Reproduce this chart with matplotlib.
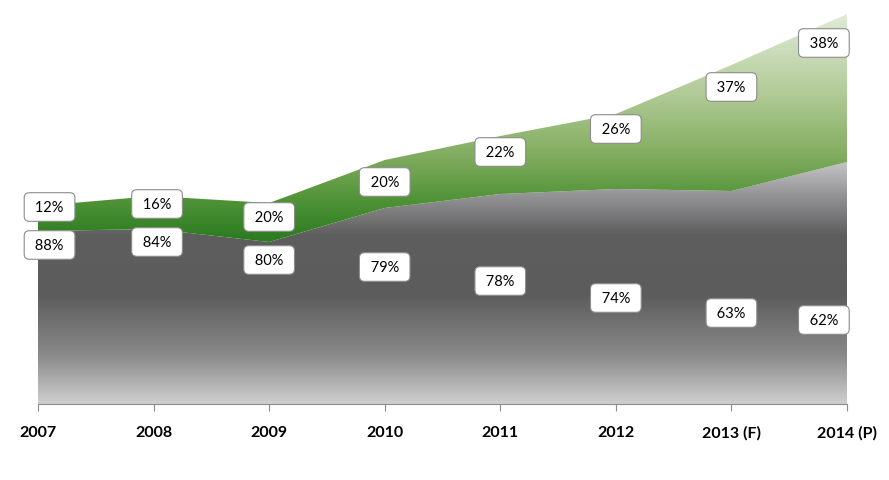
import matplotlib.pyplot as plt
import numpy as np
from matplotlib.colors import LinearSegmentedColormap

years = ["2007", "2008", "2009", "2010", "2011", "2012", "2013 (F)", "2014 (P)"]
gray_vals = [173, 175, 162, 196, 210, 215, 213, 242]
green_vals = [25, 33, 39, 48, 58, 75, 126, 148]
gray_pct = ["88%", "84%", "80%", "79%", "78%", "74%", "63%", "62%"]
green_pct = ["12%", "16%", "20%", "20%", "22%", "26%", "37%", "38%"]

# label placement (manual, like the original)
gray_lab_y = [159, 162, 144, 137, 123, 106, 91, 84]
green_lab_y = [197, 200, 187, 222, 252, 275, 317, 361]
lab_dx = [0.1, 0.03, 0, 0, 0, 0, 0, -0.2]


def gradient_fill(ax, x, y1, y2, stops, top):
    poly = ax.fill_between(x, y1, y2, color="none", lw=0)
    cmap = LinearSegmentedColormap.from_list("g", stops)
    grad = np.linspace(0, 1, 256).reshape(-1, 1)
    im = ax.imshow(grad, cmap=cmap, aspect="auto", origin="lower",
                   extent=[x[0], x[-1], 0, top], zorder=1)
    im.set_clip_path(poly.get_paths()[0], transform=ax.transData)
    return im


x = np.arange(len(years))
gray = np.array(gray_vals)
total = gray + np.array(green_vals)

fig = plt.figure(figsize=(8.89, 4.81), dpi=100)
ax = fig.add_axes([38 / 889, 76 / 481, 809 / 889, 390 / 481])

gradient_fill(ax, x, 0, gray,
              [(0, "#cfcfcf"), (0.2, "#8a8a8a"), (0.45, "#5c5c5c"),
               (0.7, "#5e5e5e"), (0.85, "#8f8f91"), (1, "#c4c4c7")], 242)
gradient_fill(ax, x, gray, total,
              [(0, "#1f6e16"), (0.42, "#2b7b21"), (0.52, "#4f9236"),
               (0.65, "#86af63"), (0.8, "#b2cb98"), (1, "#e0ebd6")], 390)

box = dict(boxstyle="round,pad=0.5,rounding_size=0.35", fc="white",
           ec="#8c8c8c", lw=0.8)
for i in range(len(years)):
    ax.text(x[i] + lab_dx[i], gray_lab_y[i], " " + gray_pct[i] + " ",
            ha="center", va="center", fontsize=10.5,
            family=["Lato", "DejaVu Sans"], bbox=box, zorder=5)
    ax.text(x[i] + lab_dx[i], green_lab_y[i], " " + green_pct[i] + " ",
            ha="center", va="center", fontsize=10.5,
            family=["Lato", "DejaVu Sans"], bbox=box, zorder=5)

ax.set_xlim(0, len(years) - 1)
ax.set_ylim(0, 390)
ax.set_xticks(x)
ax.set_xticklabels(years, fontsize=11.5, fontweight="bold",
                   family=["Lato", "DejaVu Sans"])
ax.tick_params(axis="x", length=5, color="#8c8c8c", pad=10)
ax.set_yticks([])
for s in ["top", "right", "left"]:
    ax.spines[s].set_visible(False)
ax.spines["bottom"].set_color("#8c8c8c")
ax.spines["bottom"].set_zorder(6)

fig.savefig("out.png", dpi=100)
